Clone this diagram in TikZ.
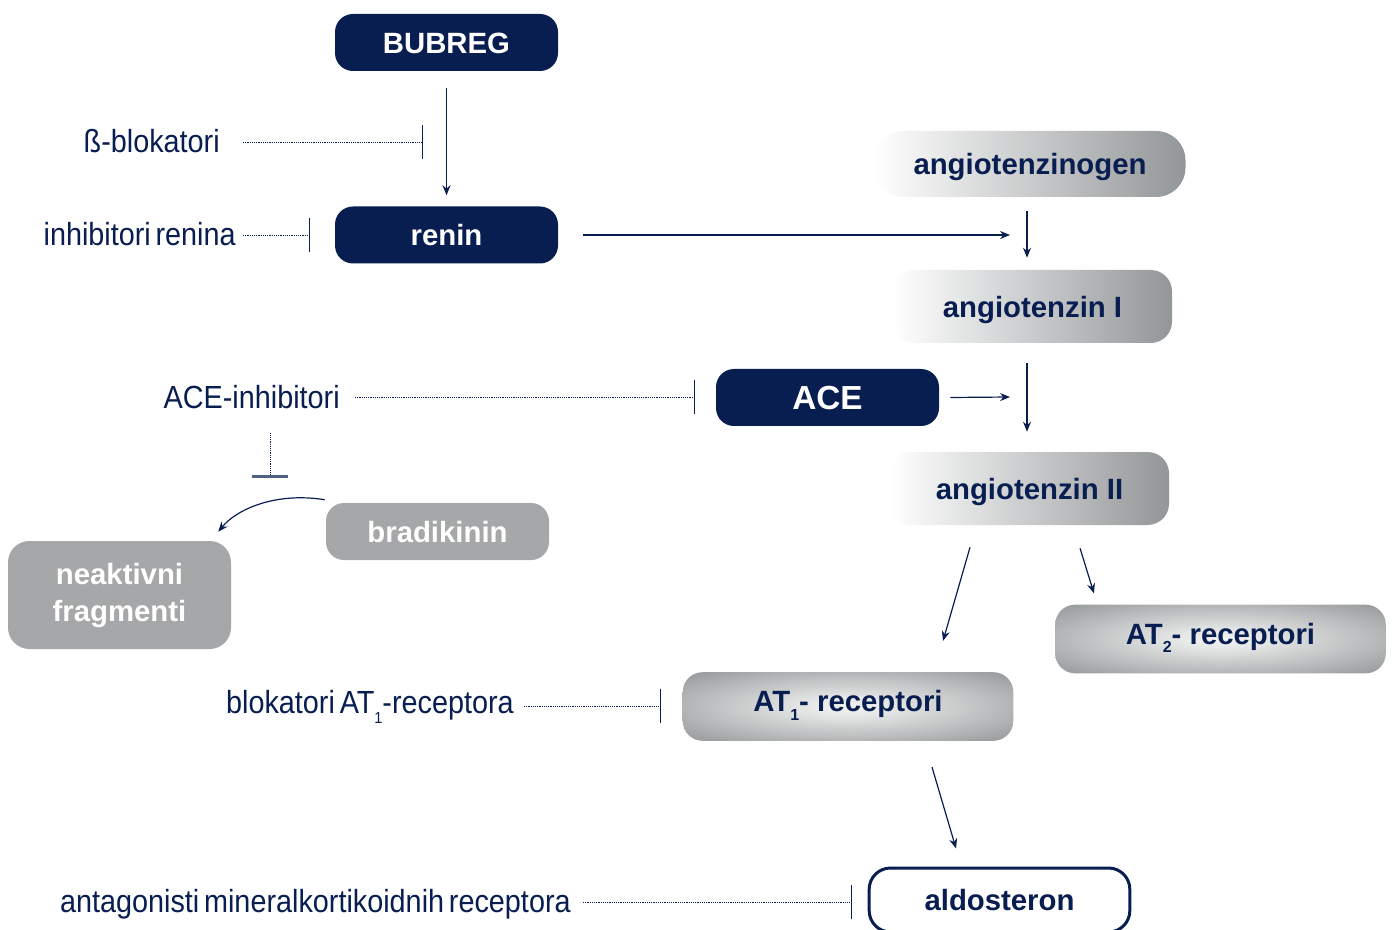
\documentclass[tikz,border=0pt]{standalone}
\usepackage{fontspec}
\setmainfont{Liberation Sans}
\newfontfamily\lightfont[FakeStretch=0.9,WordSpace=0.6]{Liberation Sans}
\usetikzlibrary{arrows.meta}
\definecolor{navy}{RGB}{8,29,80}
\definecolor{gryA}{RGB}{147,150,152}
\definecolor{gryB}{RGB}{166,167,168}
\definecolor{barblue}{RGB}{80,95,130}
\definecolor{atlight}{RGB}{244,244,244}
\definecolor{atmid}{RGB}{226,227,227}
\pgfdeclareradialshading{atshade}{\pgfpoint{0bp}{0bp}}{color(0bp)=(atlight); color(8bp)=(atmid); color(36bp)=(gryA); color(50bp)=(gryA)}
\newcommand\boldsub[1]{\raisebox{-0.55ex}{\fontsize{12}{12}\selectfont #1}}
\newcommand\lightsub[1]{\raisebox{-0.6ex}{\fontsize{12}{12}\selectfont #1}}
\begin{document}
\begin{tikzpicture}[x=0.75pt,y=-0.75pt,
  boldtxt/.style={font=\bfseries\fontsize{22}{26}\selectfont},
  fixtxt/.style={text height=16pt, text depth=0pt},
  navybox/.style={rectangle, rounded corners=13.5pt, fill=navy, text=white, boldtxt, fixtxt,
    minimum width=167.25pt, minimum height=42.75pt, inner sep=0pt},
  fadebox/.style={rectangle, left color=white, right color=gryA, text=navy, boldtxt, fixtxt, inner sep=0pt},
  graybox/.style={rectangle, fill=gryB, text=white, boldtxt, inner sep=0pt},
  atbox/.style={rectangle, rounded corners=15pt, shading=atshade, text=navy, boldtxt,
    text height=16pt, text depth=8pt,
    minimum width=248pt, minimum height=51.5pt, inner sep=0pt},
  lbl/.style={font=\lightfont\fontsize{24}{28}\selectfont, text=navy, inner sep=0pt, anchor=base east},
  arr/.style={draw=navy, line width=0.9pt, -{Stealth[length=7.5pt,width=6pt,inset=2.5pt]}},
  inhib/.style={draw=navy, line width=0.7pt, dash pattern=on 0.9pt off 0.75pt,
    -{Bar[width=25.5pt,line width=0.9pt]}},
  inhibH/.style={draw=navy, line width=0.7pt, dash pattern=on 0.9pt off 0.75pt,
    -{Bar[width=27pt,line width=2pt,color=barblue]}}
]
\useasboundingbox (0,0) rectangle (1392,930);

% main nodes
\node[navybox] (bubreg) at (446.5,42.5) {BUBREG};
\node[navybox] (renin) at (446.5,235) {renin};
\node[navybox, font=\bfseries\fontsize{25}{30}\selectfont, text height=18pt] (ace) at (827.5,397.5) {ACE};
\node[fadebox, rounded corners=22pt, minimum width=233.25pt, minimum height=49.5pt] (ang0) at (1030,164) {angiotenzinogen};
\node[fadebox, rounded corners=16pt, minimum width=209.25pt, minimum height=54.75pt] (ang1) at (1032.5,306.5) {angiotenzin I};
\node[fadebox, rounded corners=16pt, minimum width=209.25pt, minimum height=54.75pt] (ang2) at (1029.5,488.5) {angiotenzin II};
\node[graybox, fixtxt, rounded corners=13.5pt, minimum width=167.25pt, minimum height=42.75pt] (brad) at (437.5,531.5) {bradikinin};
\node[graybox, rounded corners=16pt, minimum width=167.25pt, minimum height=81pt, align=center,
  font=\bfseries\fontsize{22}{27.75}\selectfont] (neak) at (119.5,595) {neaktivni\\fragmenti};
\node[atbox] (at2) at (1220.5,639) {AT\boldsub{2}- receptori};
\node[atbox] (at1) at (848,706.5) {AT\boldsub{1}- receptori};
\node[rectangle, rounded corners=16pt, draw=navy, line width=2.25pt, fill=white, text=navy, boldtxt, fixtxt,
  minimum width=195.5pt, minimum height=48pt, inner sep=0pt] (ald) at (999.5,900) {aldosteron};

% drug labels
\node[lbl] (bblok) at (220,153) {ß-blokatori};
\node[lbl] (inhren) at (236,246) {inhibitori renina};
\node[lbl] (acei) at (340,409) {ACE-inhibitori};
\node[lbl] (at1blok) at (514,713) {blokatori AT\lightsub{1}-receptora};
\node[lbl] (mra) at (571,912) {antagonisti mineralkortikoidnih receptora};

% named free ends
\coordinate (bbar) at (423,142);
\coordinate (rbar) at (310,235);
\coordinate (abar) at (695,397);
\coordinate (kbar) at (270,478);
\coordinate (t1bar) at (661,706);
\coordinate (mbar) at (852,902);
\coordinate (rtip) at (1010,235);
\coordinate (acetip) at (1010,397);
\coordinate (ax) at (1027,0);

% activation arrows
\draw[arr, shorten <=12.75pt, shorten >=8.25pt] (bubreg) -- (renin);
\draw[arr] (renin.east) ++(18.75pt,0) -- (rtip);
\draw[arr] (ang0.south -| ax) ++(0,14) -- ([yshift=9pt]ang1.north -| ax);
\draw[arr] (ace.east) ++(8.25pt,0) -- (acetip);
\draw[arr] (ang1.south -| ax) ++(0,20) -- ([yshift=15pt]ang2.north -| ax);
\draw[arr] ([xshift=-44.6pt,yshift=-16.5pt]ang2.south) -- ([xshift=71.25pt,yshift=23.25pt]at1.north);
\draw[arr] ([xshift=37.9pt,yshift=-17.25pt]ang2.south) -- ([xshift=-94.9pt,yshift=8.25pt]at2.north);
\draw[arr] ([xshift=63pt,yshift=-19.5pt]at1.south) -- ([xshift=-32.6pt,yshift=13.5pt]ald.north);
\draw[arr] ([shift={(-0.75pt,2.25pt)}]brad.north west) .. controls +(-50,-8) and +(18,-22) .. ([shift={(-9.75pt,6.75pt)}]neak.north east);

% inhibitions
\draw[inhib] (bblok.east |- bbar) ++(17.25pt,0) -- (bbar);
\draw[inhib] (inhren.east |- rbar) ++(5.25pt,0) -- (rbar);
\draw[inhib] (acei.east |- abar) ++(11.25pt,0) -- (abar);
\draw[inhibH] (acei.south -| kbar) ++(0,23) -- (kbar);
\draw[inhib] (at1blok.east |- t1bar) ++(7.5pt,0) -- (t1bar);
\draw[inhib] (mra.east |- mbar) ++(9pt,0) -- (mbar);
\end{tikzpicture}
\end{document}
